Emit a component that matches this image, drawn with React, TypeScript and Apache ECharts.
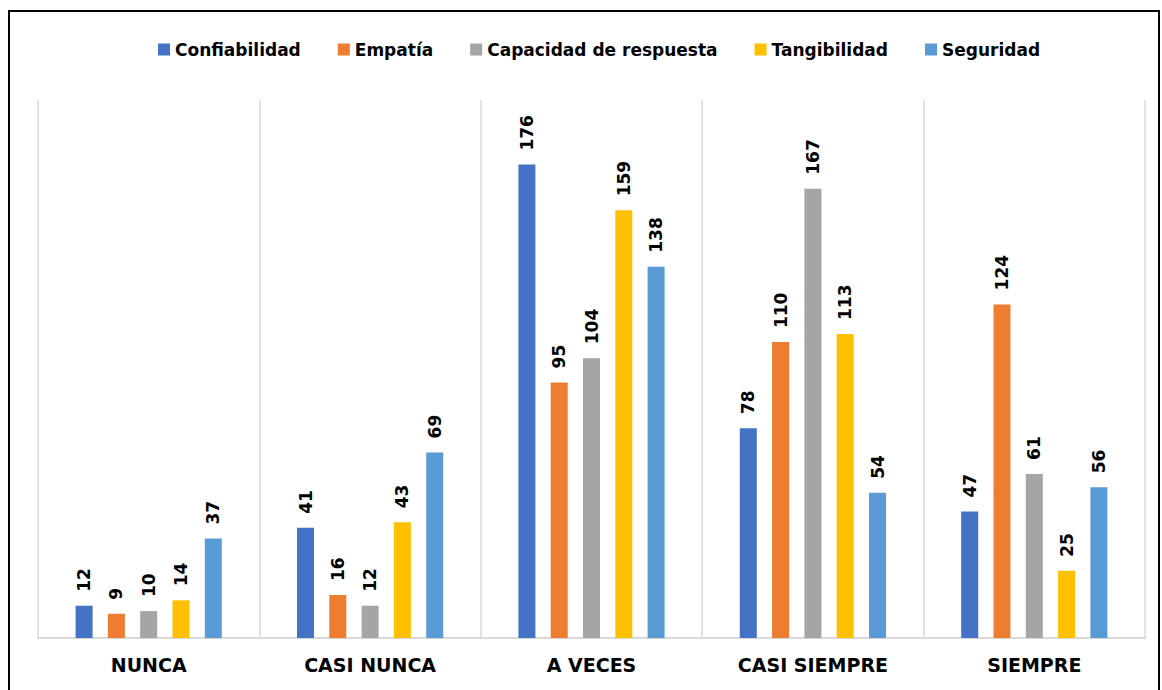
import React, { useEffect, useRef } from "react";
import * as echarts from "echarts";

const categories = ["NUNCA", "CASI NUNCA", "A VECES", "CASI SIEMPRE", "SIEMPRE"];
const seriesNames = ["Confiabilidad", "Empatía", "Capacidad de respuesta", "Tangibilidad", "Seguridad"];
const confiabilidad = [12, 41, 176, 78, 47];
const empatia = [9, 16, 95, 110, 124];
const capacidad = [10, 12, 104, 167, 61];
const tangibilidad = [14, 43, 159, 113, 25];
const seguridad = [37, 69, 138, 54, 56];
const colors = ["#4472C4", "#ED7D31", "#A5A5A5", "#FFC000", "#5B9BD5"];

export default function App() {
  const ref = useRef<HTMLDivElement>(null);
  useEffect(() => {
    if (!ref.current) return;
    const chart = echarts.init(ref.current, undefined, { renderer: "svg" });
    const values = [confiabilidad, empatia, capacidad, tangibilidad, seguridad];
    chart.setOption({
      animation: false,
      backgroundColor: "#ffffff",
      textStyle: { fontFamily: "DejaVu Sans" },
      graphic: [
        {
          type: "rect",
          shape: { x: 9, y: 11, width: 1150, height: 700 },
          style: { fill: "none", stroke: "#000000", lineWidth: 2 },
          silent: true,
        },
      ],
      legend: {
        top: 36,
        left: 153,
        itemWidth: 12,
        itemHeight: 12,
        itemGap: 37,
        icon: "rect",
        textStyle: { fontSize: 17, fontWeight: "bold", color: "#000", fontFamily: "DejaVu Sans" },
        data: seriesNames,
      },
      grid: { left: 38, right: 17, top: 100, bottom: 52, containLabel: false },
      xAxis: {
        type: "category",
        data: categories,
        axisTick: { show: false },
        axisLine: { lineStyle: { color: "#d9d9d9", width: 2 } },
        splitLine: { show: true, lineStyle: { color: "#d9d9d9", width: 1.5 } },
        axisLabel: {
          color: "#000",
          fontSize: 19,
          fontWeight: "bold",
          fontFamily: "DejaVu Sans",
          margin: 17,
        },
      },
      yAxis: {
        type: "value",
        min: 0,
        max: 200,
        show: false,
        splitLine: { show: false },
      },
      series: seriesNames.map((name, i) => ({
        name,
        type: "bar",
        data: values[i],
        barWidth: 17,
        barGap: "90%",
        itemStyle: { color: colors[i] },
        label: {
          show: true,
          position: "top",
          rotate: 90,
          align: "left",
          verticalAlign: "middle",
          distance: 14,
          color: "#000",
          fontSize: 17,
          fontWeight: "bold",
          fontFamily: "DejaVu Sans",
        },
      })),
    });
    return () => chart.dispose();
  }, []);
  return (
    <div
      ref={ref}
      style={{ position: "absolute", left: 0, top: 0, width: 1162, height: 690 }}
    />
  );
}
